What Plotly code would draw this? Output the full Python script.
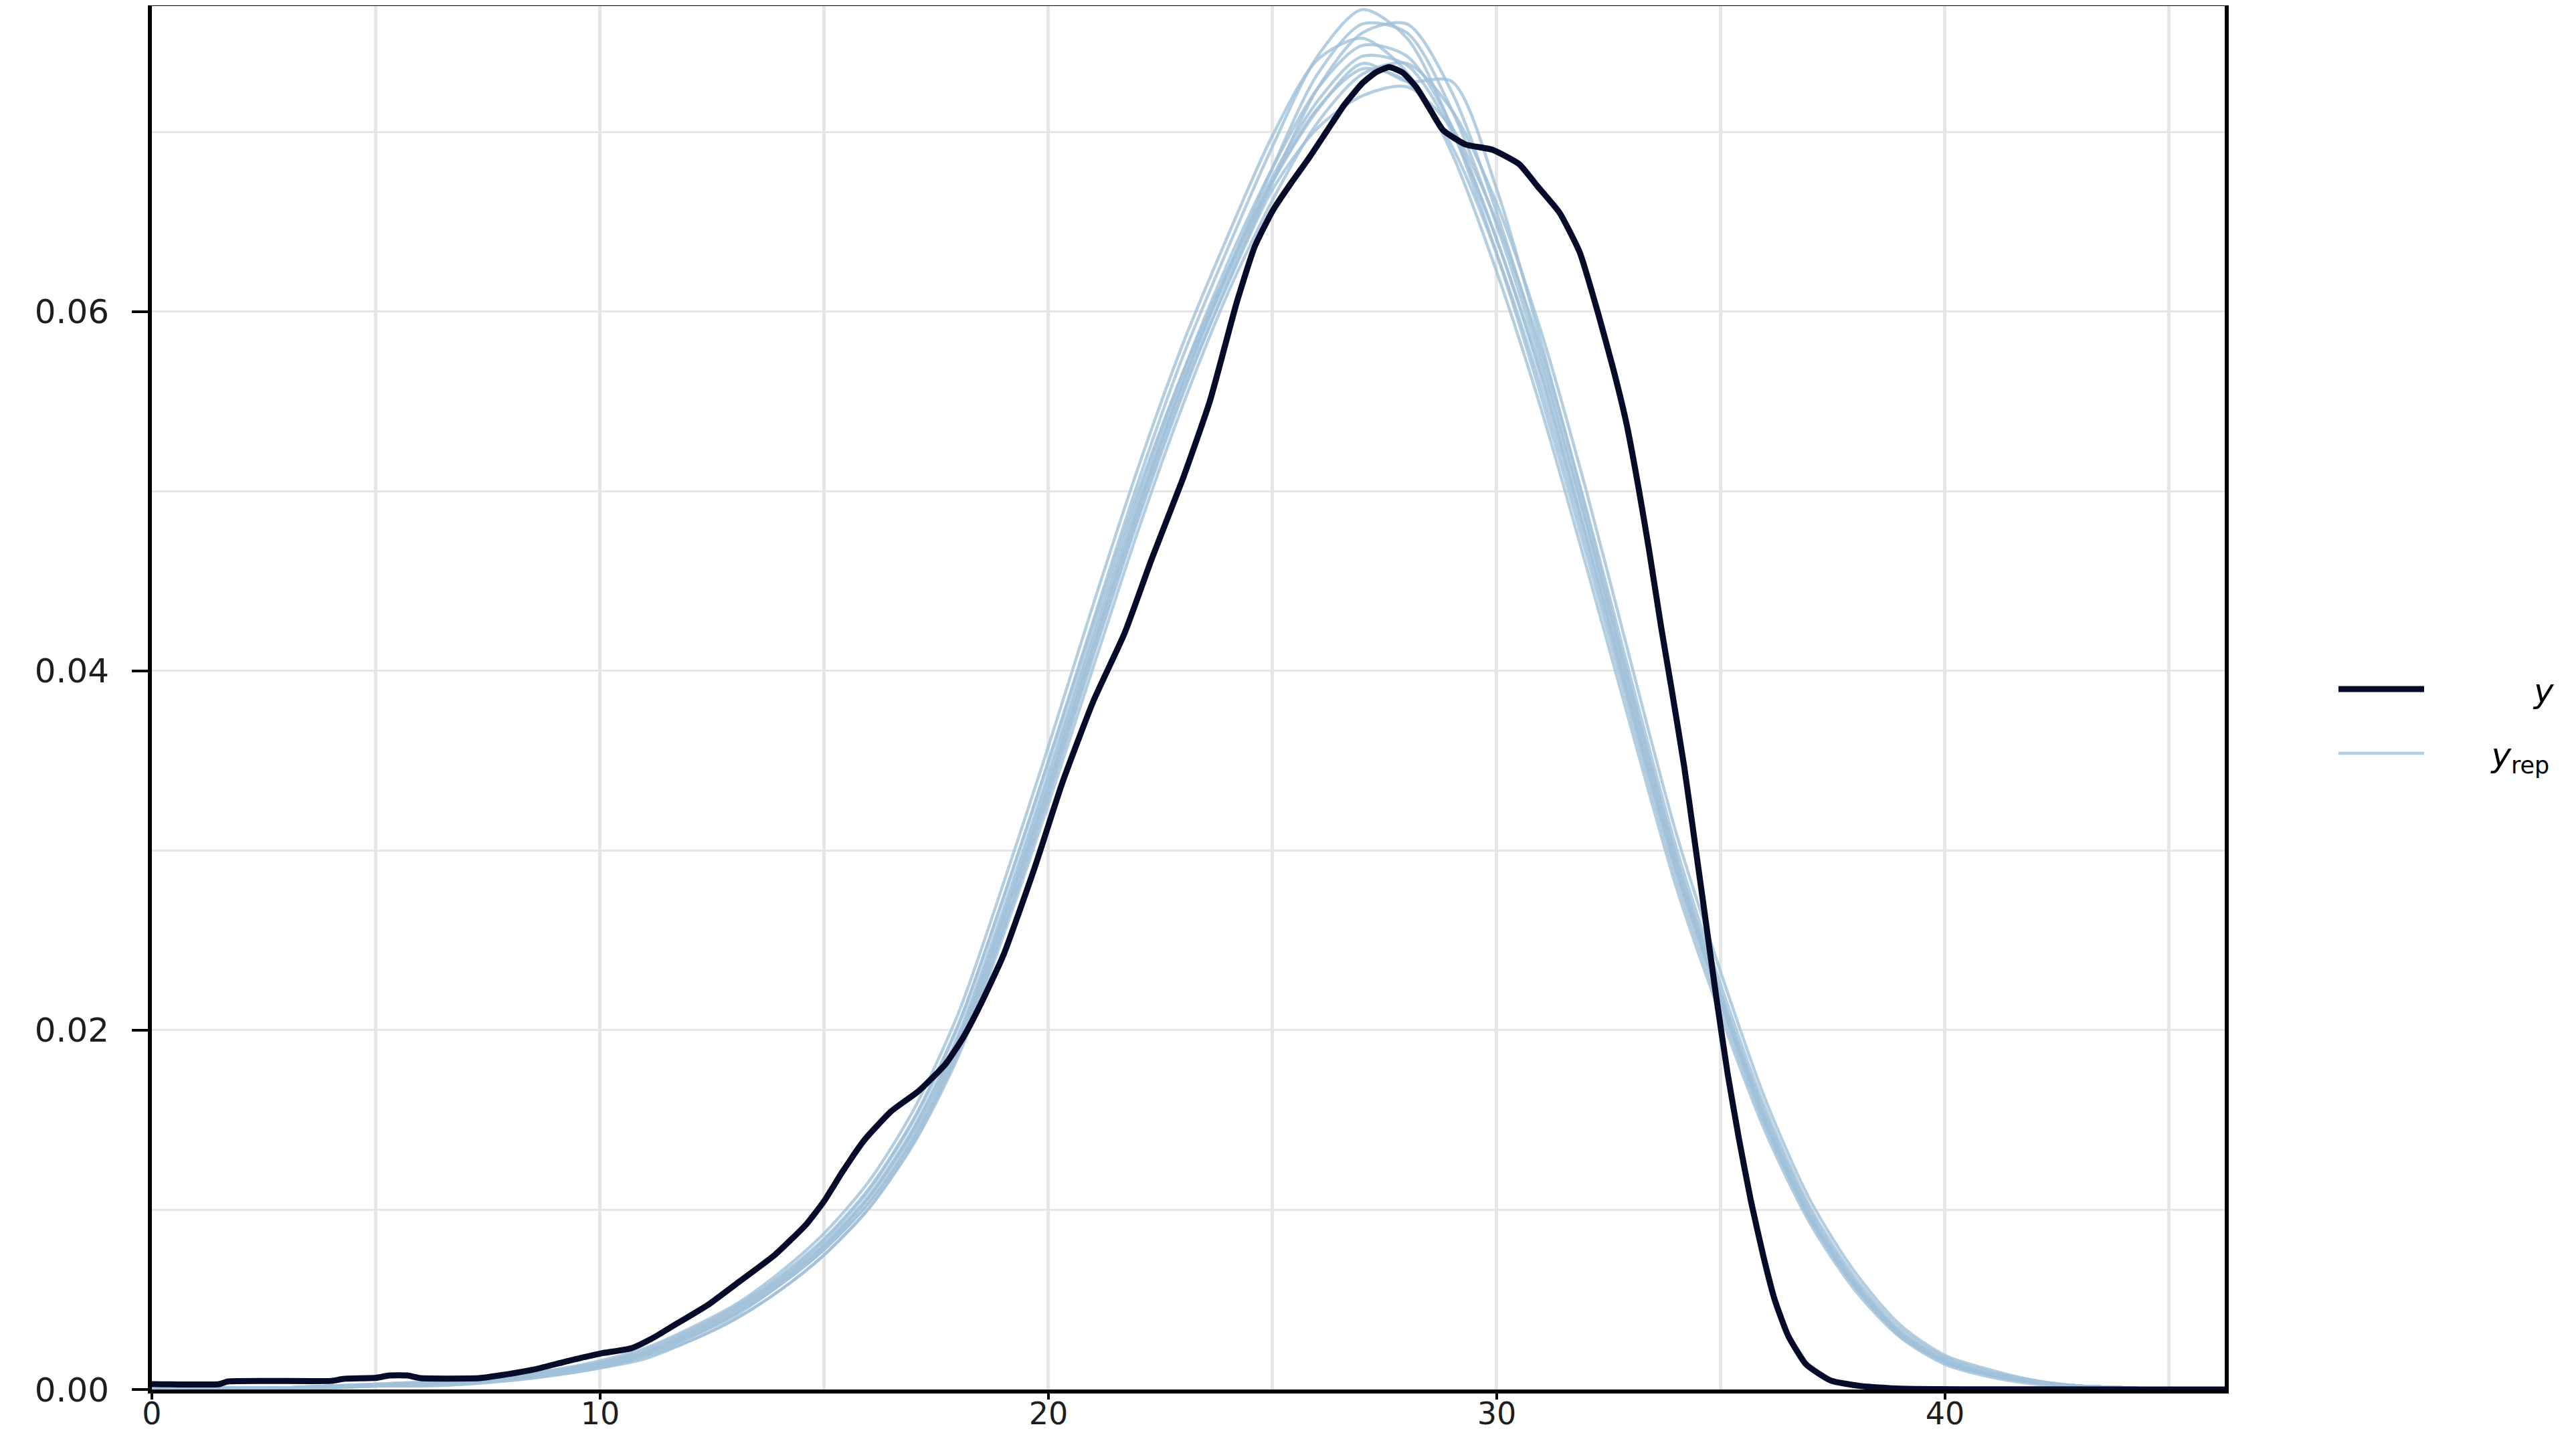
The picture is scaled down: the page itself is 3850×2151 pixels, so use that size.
import plotly.graph_objects as go

# ---------------- data ----------------
# observed density (y)
y_x = [0, 1.5, 1.7, 4.0, 4.3, 5.0, 5.3, 5.7, 6.0, 7.3, 7.8, 8.5, 9.3, 10.0, 10.7, 11.2, 11.6,
       12.4, 13.1, 13.9, 14.6, 15.0, 15.4, 15.9, 16.5, 17.1, 17.7, 18.1, 18.5, 19.0, 19.7,
       20.3, 21.0, 21.7, 22.3, 23.0, 23.6, 24.2, 24.6, 25.0, 25.4, 25.8, 26.2, 26.6, 27.0,
       27.3, 27.6, 27.9, 28.2, 28.5, 28.8, 29.3, 29.9, 30.5, 30.9, 31.4, 31.85, 32.25, 32.6,
       32.9, 33.17, 33.4, 33.67, 33.9, 34.18, 34.4, 34.6, 34.9, 35.15, 35.4, 35.67, 35.95,
       36.2, 36.5, 36.9, 37.45, 38.1, 39.0, 46.3]
y_dens = [0.0003, 0.0003, 0.00045, 0.00048, 0.0006, 0.00065, 0.00078, 0.00078, 0.00063, 0.00063,
          0.0008, 0.0011, 0.0016, 0.0020, 0.0023, 0.0029, 0.0035, 0.0047, 0.0060, 0.0075, 0.0092,
          0.0105, 0.0121, 0.0139, 0.0155, 0.0166, 0.0181, 0.0196, 0.0215, 0.0242, 0.0291, 0.0337,
          0.0383, 0.0421, 0.0462, 0.0507, 0.0550, 0.0605, 0.0636, 0.0656, 0.0671, 0.0685, 0.0700,
          0.0715, 0.0727, 0.0733, 0.0736, 0.0733, 0.0725, 0.0713, 0.0701, 0.0693, 0.0690, 0.0682,
          0.0670, 0.0655, 0.0633, 0.0600, 0.0568, 0.0537, 0.0501, 0.0467, 0.0424, 0.0390, 0.0347,
          0.0308, 0.0272, 0.0218, 0.0176, 0.0140, 0.0105, 0.0074, 0.0050, 0.0030, 0.0014, 0.0005,
          0.0002, 0.00005, 0.0]

# replicated densities (y_rep), common grid
rep_x = list(range(0, 47))
rep_1 = [0, 0, 0.0001, 0.0001, 0.0002, 0.0002, 0.0003, 0.0005, 0.0007, 0.0010,
         0.0014, 0.0021, 0.0032, 0.0045, 0.0062, 0.0083, 0.0111, 0.0150, 0.0203, 0.0274,
         0.0350, 0.0428, 0.0505, 0.0575, 0.0635, 0.0692, 0.0742, 0.0768, 0.0752, 0.0702,
         0.0632, 0.0552, 0.0465, 0.0374, 0.0285, 0.0212, 0.0146, 0.0094, 0.0057, 0.0030,
         0.0015, 0.0008, 0.0004, 0.0002, 0.0001, 0, 0]
rep_2 = [0, 0, 0.0001, 0.0001, 0.0001, 0.0002, 0.0003, 0.0004, 0.0006, 0.0009,
         0.0013, 0.0019, 0.0029, 0.0041, 0.0058, 0.0078, 0.0104, 0.0141, 0.0192, 0.0262,
         0.0336, 0.0414, 0.0490, 0.0560, 0.0622, 0.0680, 0.0732, 0.0760, 0.0755, 0.0712,
         0.0648, 0.0570, 0.0482, 0.0388, 0.0296, 0.0220, 0.0153, 0.0099, 0.0060, 0.0032,
         0.0017, 0.0009, 0.0004, 0.0002, 0.0001, 0, 0]
rep_3 = [0, 0, 0.0001, 0.0001, 0.0002, 0.0003, 0.0004, 0.0005, 0.0007, 0.0011,
         0.0015, 0.0021, 0.0030, 0.0042, 0.0058, 0.0078, 0.0104, 0.0140, 0.0190, 0.0258,
         0.0332, 0.0410, 0.0486, 0.0556, 0.0615, 0.0668, 0.0702, 0.0720, 0.0725, 0.0702,
         0.0650, 0.0578, 0.0490, 0.0395, 0.0302, 0.0225, 0.0156, 0.0101, 0.0062, 0.0034,
         0.0018, 0.0010, 0.0005, 0.0002, 0.0001, 0, 0]
rep_4 = [0, 0, 0, 0.0001, 0.0001, 0.0002, 0.0003, 0.0004, 0.0006, 0.0009,
         0.0013, 0.0019, 0.0029, 0.0042, 0.0059, 0.0080, 0.0107, 0.0144, 0.0194, 0.0262,
         0.0336, 0.0414, 0.0490, 0.0560, 0.0620, 0.0672, 0.0712, 0.0738, 0.0728, 0.0728,
         0.0668, 0.0582, 0.0488, 0.0390, 0.0297, 0.0220, 0.0151, 0.0097, 0.0059, 0.0032,
         0.0016, 0.0009, 0.0004, 0.0002, 0.0001, 0, 0]
rep_5 = [0, 0.0001, 0.0001, 0.0001, 0.0002, 0.0003, 0.0004, 0.0005, 0.0008, 0.0011,
         0.0016, 0.0023, 0.0034, 0.0047, 0.0065, 0.0087, 0.0116, 0.0156, 0.0210, 0.0282,
         0.0358, 0.0437, 0.0513, 0.0582, 0.0642, 0.0698, 0.0740, 0.0752, 0.0733, 0.0688,
         0.0622, 0.0545, 0.0458, 0.0368, 0.0280, 0.0208, 0.0143, 0.0092, 0.0055, 0.0029,
         0.0014, 0.0007, 0.0003, 0.0001, 0.0001, 0, 0]
rep_6 = [0, 0, 0, 0.0001, 0.0001, 0.0002, 0.0002, 0.0003, 0.0005, 0.0008,
         0.0012, 0.0018, 0.0027, 0.0039, 0.0055, 0.0075, 0.0101, 0.0137, 0.0186, 0.0253,
         0.0326, 0.0402, 0.0478, 0.0548, 0.0610, 0.0662, 0.0705, 0.0732, 0.0738, 0.0712,
         0.0660, 0.0588, 0.0500, 0.0404, 0.0310, 0.0232, 0.0161, 0.0105, 0.0065, 0.0036,
         0.0019, 0.0011, 0.0005, 0.0002, 0.0001, 0, 0]
rep_7 = [0, 0, 0.0001, 0.0001, 0.0002, 0.0002, 0.0003, 0.0005, 0.0007, 0.0010,
         0.0014, 0.0020, 0.0031, 0.0044, 0.0061, 0.0081, 0.0108, 0.0146, 0.0198, 0.0268,
         0.0343, 0.0421, 0.0497, 0.0566, 0.0627, 0.0680, 0.0724, 0.0748, 0.0742, 0.0703,
         0.0640, 0.0563, 0.0474, 0.0381, 0.0291, 0.0217, 0.0149, 0.0096, 0.0058, 0.0031,
         0.0016, 0.0008, 0.0004, 0.0002, 0.0001, 0, 0]
rep_8 = [0, 0, 0.0001, 0.0001, 0.0002, 0.0002, 0.0003, 0.0005, 0.0007, 0.0010,
         0.0015, 0.0022, 0.0033, 0.0046, 0.0063, 0.0084, 0.0112, 0.0151, 0.0204, 0.0274,
         0.0349, 0.0426, 0.0500, 0.0566, 0.0623, 0.0673, 0.0713, 0.0735, 0.0728, 0.0692,
         0.0632, 0.0557, 0.0470, 0.0378, 0.0289, 0.0216, 0.0148, 0.0095, 0.0057, 0.0030,
         0.0015, 0.0008, 0.0004, 0.0002, 0.0001, 0, 0]
rep_9 = [0, 0, 0, 0.0001, 0.0001, 0.0002, 0.0002, 0.0003, 0.0005, 0.0008,
         0.0012, 0.0017, 0.0027, 0.0039, 0.0055, 0.0075, 0.0101, 0.0138, 0.0188, 0.0256,
         0.0330, 0.0408, 0.0484, 0.0554, 0.0616, 0.0672, 0.0724, 0.0755, 0.0760, 0.0722,
         0.0655, 0.0574, 0.0482, 0.0385, 0.0292, 0.0216, 0.0148, 0.0095, 0.0057, 0.0030,
         0.0015, 0.0008, 0.0004, 0.0002, 0.0001, 0, 0]
rep_10 = [0, 0, 0.0001, 0.0001, 0.0002, 0.0002, 0.0003, 0.0005, 0.0007, 0.0010,
          0.0014, 0.0020, 0.0031, 0.0043, 0.0060, 0.0080, 0.0107, 0.0145, 0.0196, 0.0265,
          0.0340, 0.0418, 0.0493, 0.0562, 0.0622, 0.0675, 0.0717, 0.0742, 0.0737, 0.0700,
          0.0640, 0.0565, 0.0475, 0.0380, 0.0290, 0.0216, 0.0149, 0.0096, 0.0058, 0.0031,
          0.0016, 0.0009, 0.0004, 0.0002, 0.0001, 0, 0]
rep_series = [rep_1, rep_2, rep_3, rep_4, rep_5, rep_6, rep_7, rep_8, rep_9, rep_10]

x_ticks = [0, 10, 20, 30, 40]
y_ticks = [0.00, 0.02, 0.04, 0.06]
y_tick_labels = ["0.00", "0.02", "0.04", "0.06"]

NB = "\u00a0"
label_y = NB * 10 + "<i>y</i>"
label_yrep = NB * 6 + "<i>y</i><sub>rep</sub>"

# ---------------- style ----------------
DARK = "#050b28"
LIGHT = "rgba(160,192,218,0.8)"
GRID = "#e6e6e6"
TXT = "#1e1e1e"
FONT = "DejaVu Sans"
TICK_SIZE = 46

# the page body adds an 8 px offset; the figure is sized to fit inside the window
W, H = 3834, 2135

fig = go.Figure()
for i, ys in enumerate(rep_series):
    fig.add_trace(go.Scatter(
        x=rep_x, y=ys, mode="lines",
        line=dict(color=LIGHT, width=4.5, shape="spline", smoothing=0.8),
        name=label_yrep, legendgroup="yrep", showlegend=(i == 0),
        legendrank=2, hoverinfo="skip"))

fig.add_trace(go.Scatter(
    x=y_x, y=y_dens, mode="lines",
    line=dict(color=DARK, width=9, shape="spline", smoothing=0.5),
    name=label_y, legendgroup="y", legendrank=1, hoverinfo="skip"))

fig.update_layout(
    width=W, height=H,
    margin=dict(l=219, r=517, t=1, b=66, pad=0),
    paper_bgcolor="white", plot_bgcolor="white",
    font=dict(family=FONT, size=TICK_SIZE, color=TXT),
    showlegend=True,
    legend=dict(
        xref="container", yref="container",
        x=3482 / W, xanchor="left",
        y=1 - 1070 / H, yanchor="middle",
        bgcolor="rgba(0,0,0,0)", borderwidth=0,
        font=dict(family=FONT, size=50, color="black"),
        itemwidth=128, tracegroupgap=28,
    ),
)

fig.update_xaxes(
    range=[0, 46.24], tickmode="array", tickvals=x_ticks,
    ticks="outside", ticklen=9, tickwidth=4, tickcolor="black",
    showline=True, linecolor="black", linewidth=6, mirror=True,
    showgrid=True, gridcolor=GRID, gridwidth=5,
    minor=dict(dtick=5, tick0=0, showgrid=True, gridcolor=GRID, gridwidth=5),
    zeroline=False, ticklabelstandoff=-18, automargin=False,
    tickfont=dict(family=FONT, size=TICK_SIZE, color=TXT),
)
fig.update_yaxes(
    range=[0, 0.0770], tickmode="array", tickvals=y_ticks, ticktext=y_tick_labels,
    ticks="outside", ticklen=24, tickwidth=4, tickcolor="black",
    showline=True, linecolor="black", linewidth=6, mirror=True,
    showgrid=True, gridcolor=GRID, gridwidth=3,
    minor=dict(dtick=0.01, tick0=0, showgrid=True, gridcolor=GRID, gridwidth=3),
    zeroline=False, ticklabelstandoff=24, automargin=False,
    tickfont=dict(family=FONT, size=50, color=TXT),
)

fig.write_html("out.html")
